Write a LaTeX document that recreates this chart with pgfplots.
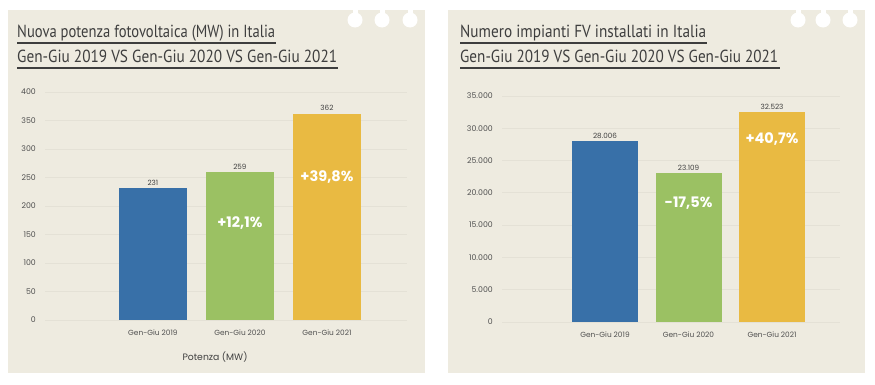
\documentclass[border=0pt]{standalone}
\usepackage{fontspec}
\setmainfont{Poppins}
\newfontfamily\titlefont{PT Sans}
\usepackage{pgfplots}
\usepackage{graphicx}
\pgfplotsset{compat=1.18}
\definecolor{bg}{HTML}{EEEBE0}
\definecolor{gridc}{HTML}{E4E1D6}
\definecolor{cblue}{HTML}{3870A8}
\definecolor{cgreen}{HTML}{9BC163}
\definecolor{cyellow}{HTML}{E9BA42}
\definecolor{txt}{HTML}{404040}
\definecolor{tickc}{HTML}{505050}
\definecolor{titlec}{HTML}{3E3E3E}

\tikzset{pct/.style={font=\bfseries\fontsize{14.5}{16}\selectfont, text=white}}
\pgfplotsset{
  mybars/.style={
    scale only axis, anchor=south west, clip=false,
    ybar,
    axis line style={draw=none},
    major tick length=0pt,
    ymajorgrids, grid style={gridc, line width=0.9pt},
    xtick={0,1,2},
    xticklabels={Gen-Giu 2019,Gen-Giu 2020,Gen-Giu 2021},
    tick label style={text=tickc},
    xticklabel style={font=\fontsize{7.4}{8}\selectfont, inner sep=0pt, yshift=-10pt},
    yticklabel style={font=\fontsize{7.8}{8}\selectfont, inner sep=0pt, anchor=east, xshift=-9pt},
    /pgf/number format/assume math mode=true,
    /pgf/number format/.cd, fixed, precision=0, 1000 sep={.},
    /pgfplots/.cd,
    scaled y ticks=false,
    nodes near coords,
    every node near coord/.append style={font=\fontsize{7.2}{8}\selectfont, text=txt, inner sep=2.5pt},
  },
}

\begin{document}
\begin{tikzpicture}
\fill[white] (0pt,0pt) rectangle (875pt,384pt);
% panels
\fill[bg] (8pt,11pt) rectangle (425pt,374pt);
\fill[bg] (448pt,11pt) rectangle (865pt,374pt);
% holes
\foreach \hx in {355,382,410,798,823,850}{
  \fill[white] (\hx pt,364pt) circle (7.5pt);
  \fill[white] (\hx pt-2.5pt,364pt) rectangle (\hx pt+2.5pt,374.5pt);
}
% titles left
\node[anchor=base west, inner sep=0pt, text=titlec] at (17pt,347pt)
  {\resizebox{258pt}{\height}{\titlefont\fontsize{17.5}{20}\selectfont Nuova potenza fotovoltaica (MW) in Italia}};
\node[anchor=base west, inner sep=0pt, text=titlec] at (17pt,322pt)
  {\resizebox{320pt}{\height}{\titlefont\fontsize{17.5}{20}\selectfont Gen-Giu 2019 VS Gen-Giu 2020 VS Gen-Giu 2021}};
\draw[titlec, line width=1.3pt] (17pt,341pt) -- (276pt,341pt);
\draw[titlec, line width=1.3pt] (17pt,316pt) -- (338pt,316pt);
% titles right
\node[anchor=base west, inner sep=0pt, text=titlec] at (460pt,347pt)
  {\resizebox{246pt}{\height}{\titlefont\fontsize{17.5}{20}\selectfont Numero impianti FV installati in Italia}};
\node[anchor=base west, inner sep=0pt, text=titlec] at (460pt,322pt)
  {\resizebox{318pt}{\height}{\titlefont\fontsize{17.5}{20}\selectfont Gen-Giu 2019 VS Gen-Giu 2020 VS Gen-Giu 2021}};
\draw[titlec, line width=1.3pt] (460pt,341pt) -- (707pt,341pt);
\draw[titlec, line width=1.3pt] (460pt,316pt) -- (780pt,316pt);

% left axis
\begin{axis}[mybars, at={(45pt,64pt)}, width=362pt, height=228pt,
  xmin=-1.24, xmax=2.92, ymin=0, ymax=400, ytick={0,50,...,400},
  bar width=68pt]
\addplot[fill=cblue, draw=none, bar shift=0pt] coordinates {(0,231)};
\addplot[fill=cgreen, draw=none, bar shift=0pt] coordinates {(1,259)};
\addplot[fill=cyellow, draw=none, bar shift=0pt] coordinates {(2,362)};
\node[pct] at (axis cs:1,170) {+12,1\%};
\node[pct] at (axis cs:2,251) {+39,8\%};
\end{axis}
\node[font=\fontsize{9.3}{10}\selectfont, text=txt] at (215pt,27pt) {Potenza (MW)};

% right axis
\begin{axis}[mybars, at={(502pt,62pt)}, width=338pt, height=226pt,
  xmin=-1.233, xmax=2.814, ymin=0, ymax=35000, ytick={0,5000,...,35000},
  bar width=66pt]
\addplot[fill=cblue, draw=none, bar shift=0pt] coordinates {(0,28006)};
\addplot[fill=cgreen, draw=none, bar shift=0pt] coordinates {(1,23109)};
\addplot[fill=cyellow, draw=none, bar shift=0pt] coordinates {(2,32523)};
\node[pct] at (axis cs:1,18430) {-17,5\%};
\node[pct] at (axis cs:2,28340) {+40,7\%};
\end{axis}
\end{tikzpicture}
\end{document}
